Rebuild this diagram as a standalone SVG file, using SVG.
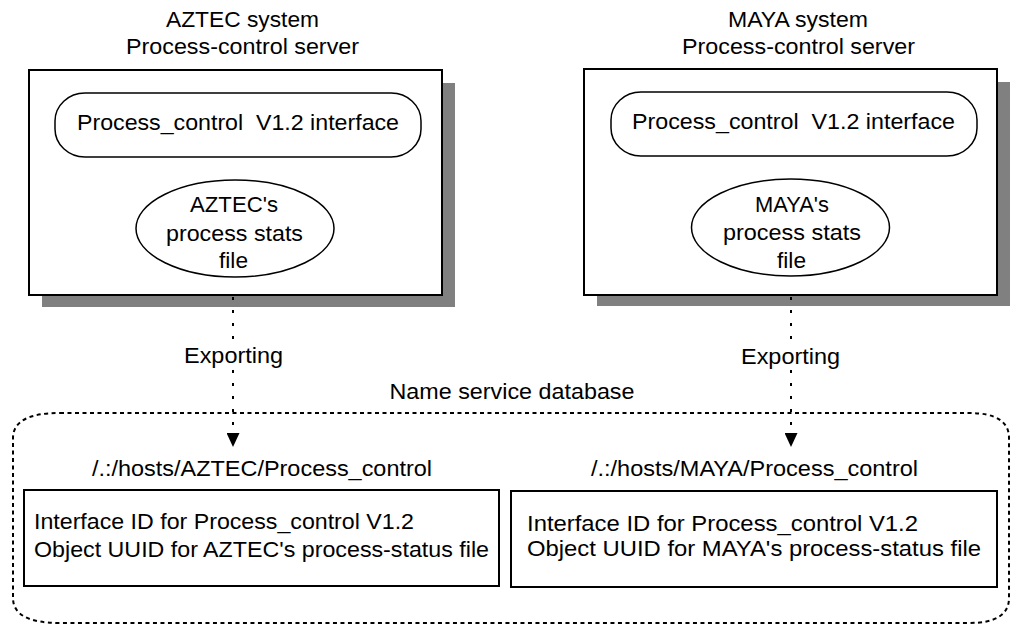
<svg xmlns="http://www.w3.org/2000/svg" width="1010" height="625" viewBox="0 0 1010 625">
<style>
text{font-family:"Liberation Sans",Arial,Helvetica,sans-serif;font-size:22px;fill:#000;white-space:pre}
.m{text-anchor:middle}
.box{fill:#fff;stroke:#000;stroke-width:2}
.shadow{fill:#808080}
.thin{fill:#fff;stroke:#000;stroke-width:1.5}
.flow{fill:none;stroke:#000;stroke-width:2;stroke-dasharray:3 10}
.db{fill:none;stroke:#000;stroke-width:2;stroke-dasharray:4 3.5}
</style>
<defs>
<marker id="ah" markerWidth="14" markerHeight="13" refX="14" refY="6.5" orient="auto" markerUnits="userSpaceOnUse" viewBox="0 0 14 13">
<path d="M0,0 L14,6.5 L0,13 Z" fill="#000"/>
</marker>
</defs>

<g id="nameservice">
<path class="db" d="M60,413 L969,413 Q1009,413 1009,438 L1009,598 Q1009,623 969,623 L60,623 Q13,623 13,598 L13,438 Q13,413 60,413 Z"/>
<text class="m" x="512" y="399" textLength="245" lengthAdjust="spacingAndGlyphs">Name service database</text>
</g>

<g id="aztec-server">
<text class="m" x="242.5" y="27" textLength="153" lengthAdjust="spacingAndGlyphs">AZTEC system</text>
<text class="m" x="242.5" y="54" textLength="233" lengthAdjust="spacingAndGlyphs">Process-control server</text>
<rect class="shadow" x="42" y="83" width="413" height="224"/>
<rect class="box" x="29" y="70" width="413" height="225"/>
<rect class="thin" x="55" y="93" width="366" height="64" rx="30" ry="28"/>
<text class="m" x="238" y="130" textLength="322" lengthAdjust="spacingAndGlyphs">Process_control  V1.2 interface</text>
<ellipse class="thin" cx="235" cy="228.5" rx="99" ry="48.5"/>
<text class="m" x="234" y="212" textLength="88" lengthAdjust="spacingAndGlyphs">AZTEC's</text>
<text class="m" x="234.5" y="241" textLength="137" lengthAdjust="spacingAndGlyphs">process stats</text>
<text class="m" x="233.5" y="268" textLength="29" lengthAdjust="spacingAndGlyphs">file</text>
</g>

<g id="maya-server">
<text class="m" x="798" y="27" textLength="140" lengthAdjust="spacingAndGlyphs">MAYA system</text>
<text class="m" x="798.5" y="54" textLength="233" lengthAdjust="spacingAndGlyphs">Process-control server</text>
<rect class="shadow" x="597" y="82" width="413" height="224"/>
<rect class="box" x="584" y="69" width="413" height="226"/>
<rect class="thin" x="611" y="92" width="366" height="64" rx="30" ry="28"/>
<text class="m" x="793.5" y="129" textLength="323" lengthAdjust="spacingAndGlyphs">Process_control  V1.2 interface</text>
<ellipse class="thin" cx="790.5" cy="227.5" rx="99" ry="48.5"/>
<text class="m" x="792" y="212" textLength="74" lengthAdjust="spacingAndGlyphs">MAYA's</text>
<text class="m" x="792" y="240" textLength="138" lengthAdjust="spacingAndGlyphs">process stats</text>
<text class="m" x="791.5" y="268" textLength="29" lengthAdjust="spacingAndGlyphs">file</text>
</g>

<g id="aztec-entry">
<text class="m" x="262" y="476" textLength="340" lengthAdjust="spacingAndGlyphs">/.:/hosts/AZTEC/Process_control</text>
<rect class="box" x="24" y="490" width="475" height="96"/>
<text x="34" y="529" textLength="380" lengthAdjust="spacingAndGlyphs">Interface ID for Process_control V1.2</text>
<text x="34" y="557" textLength="455" lengthAdjust="spacingAndGlyphs">Object UUID for AZTEC's process-status file</text>
</g>

<g id="maya-entry">
<text class="m" x="754.5" y="476" textLength="327" lengthAdjust="spacingAndGlyphs">/.:/hosts/MAYA/Process_control</text>
<rect class="box" x="511" y="491" width="486" height="96"/>
<text x="527" y="531" textLength="391" lengthAdjust="spacingAndGlyphs">Interface ID for Process_control V1.2</text>
<text x="527" y="556" textLength="454" lengthAdjust="spacingAndGlyphs">Object UUID for MAYA's process-status file</text>
</g>

<g id="connectors">
<path class="flow" d="M233,297 L233,343"/>
<path class="flow" d="M233,370 L233,447" marker-end="url(#ah)"/>
<text class="m" x="233.5" y="363" textLength="99" lengthAdjust="spacingAndGlyphs">Exporting</text>
<path class="flow" d="M791,297 L791,343"/>
<path class="flow" d="M791,370 L791,447" marker-end="url(#ah)"/>
<text class="m" x="790.5" y="364" textLength="99" lengthAdjust="spacingAndGlyphs">Exporting</text>
</g>
</svg>
